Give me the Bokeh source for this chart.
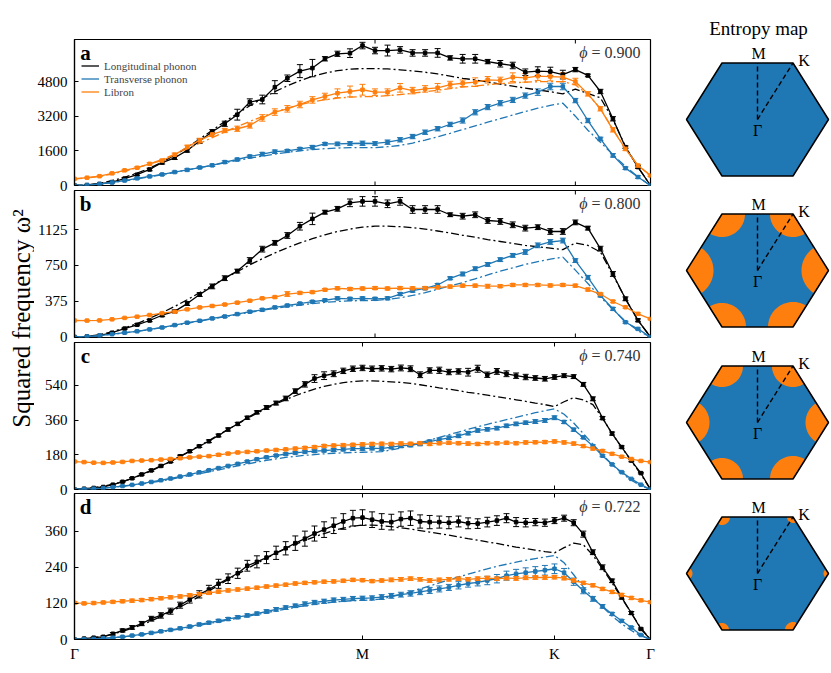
import numpy as np
from bokeh.plotting import figure
from bokeh.models import (Range1d, FixedTicker, Whisker, TeeHead, ColumnDataSource,
                          Legend, LegendItem, Label)
from bokeh.layouts import row, column
from bokeh.embed import file_html
from bokeh.resources import INLINE

FONT = "Liberation Serif"
BLACK = "#000000"
BLUE = "#1f77b4"
ORANGE = "#ff7f0e"

# ---------------- data ----------------
XS_AB = list(range(47))          # q-path samples, panels a & b
XS_CD = list(range(61))          # q-path samples, panels c & d
TICKS_AB = [0, 24, 40, 46]
TICKS_CD = [0, 30, 50, 60]
TICK_NAMES = ["Γ", "M", "K", "Γ"]

PHI = ["0.900", "0.800", "0.740", "0.722"]
Y_TICKS = [[0, 1600, 3200, 4800], [0, 375, 750, 1125], [0, 180, 360, 540], [0, 120, 240, 360]]
Y_LIMITS = [(0, 6740), (-5, 1534), (0, 762), (0, 485)]

A_long = [0, 20, 70, 160, 320, 500, 740, 1060, 1280, 1620,
          2050, 2480, 2850, 3270, 3850, 3970, 4540, 4950, 5280, 5420,
          5850, 6080, 6110, 6460, 6230, 6230, 6260, 6120, 6120, 6120,
          5890, 5850, 5850, 5720, 5620, 5540, 5230, 5280, 5260, 5120,
          5350, 5080, 4340, 3080, 1770, 850, 0]
A_long_err = [0, 10, 20, 30, 40, 50, 60, 70, 80, 80,
              100, 100, 120, 250, 150, 200, 300, 150, 300, 400,
              100, 120, 200, 150, 150, 250, 150, 150, 150, 200,
              100, 200, 200, 100, 150, 150, 150, 200, 200, 200,
              100, 60, 100, 100, 60, 60, 0]
A_long_th = [0, 30, 100, 220, 380, 570, 800, 1080, 1400, 1760,
             2150, 2550, 2950, 3320, 3680, 4020, 4330, 4600, 4840, 5040,
             5190, 5300, 5370, 5400, 5400, 5380, 5340, 5290, 5230, 5150,
             5050, 4950, 4870, 4780, 4680, 4590, 4500, 4410, 4330, 4230,
             4450, 4250, 4050, 3050, 1800, 850, 0]
A_trans = [0, 20, 70, 140, 230, 330, 420, 510, 620, 720,
           830, 930, 1080, 1200, 1340, 1450, 1560, 1600, 1690, 1770,
           1920, 1920, 1940, 1950, 1940, 2000, 2110, 2260, 2460, 2620,
           2820, 3000, 3380, 3620, 3800, 3950, 4150, 4310, 4570, 4570,
           3920, 3000, 2150, 1390, 800, 390, 0]
A_trans_err = [0, 10, 10, 20, 20, 30, 30, 40, 40, 50,
               50, 50, 60, 60, 60, 80, 80, 60, 60, 80,
               60, 80, 80, 100, 80, 100, 100, 100, 100, 100,
               100, 120, 120, 120, 120, 120, 120, 150, 150, 150,
               100, 100, 80, 80, 60, 60, 0]
A_trans_th = [0, 20, 65, 130, 210, 300, 400, 500, 610, 720,
              830, 940, 1050, 1160, 1260, 1360, 1450, 1530, 1600, 1660,
              1700, 1730, 1745, 1750, 1750, 1790, 1850, 1960, 2100, 2250,
              2410, 2580, 2750, 2920, 3090, 3250, 3420, 3570, 3700, 3800,
              3200, 2550, 2000, 1420, 880, 400, 0]
A_lib = [310, 360, 430, 560, 700, 820, 1000, 1150, 1420, 1780,
         2080, 2360, 2540, 2620, 2770, 3120, 3390, 3540, 3740, 3950,
         4110, 4260, 4340, 4420, 4310, 4310, 4510, 4380, 4460, 4510,
         4660, 4720, 4770, 4880, 4850, 5000, 4970, 5050, 5030, 5000,
         4800, 4230, 3540, 2570, 1690, 920, 460]
A_lib_err = [0, 20, 20, 30, 30, 40, 50, 60, 80, 80,
             100, 100, 100, 120, 120, 150, 150, 150, 150, 150,
             150, 200, 250, 250, 150, 150, 200, 150, 150, 200,
             150, 150, 200, 150, 150, 200, 200, 200, 200, 200,
             150, 100, 100, 100, 80, 60, 40]
A_lib_th = [310, 350, 420, 530, 660, 820, 1000, 1210, 1440, 1690,
            1950, 2210, 2470, 2720, 2960, 3180, 3390, 3570, 3730, 3860,
            3960, 4030, 4080, 4100, 4110, 4150, 4200, 4260, 4330, 4400,
            4470, 4540, 4600, 4650, 4700, 4740, 4770, 4790, 4800, 4790,
            4650, 4200, 3550, 2600, 1700, 930, 460]

B_long = [0, 5, 14, 45, 88, 128, 173, 228, 268, 350,
          445, 530, 616, 690, 801, 920, 986, 1063, 1160, 1237,
          1307, 1342, 1405, 1420, 1420, 1395, 1420, 1335, 1335, 1335,
          1280, 1265, 1280, 1220, 1210, 1175, 1140, 1150, 1105, 1105,
          1200, 1140, 925, 660, 400, 175, 0]
B_long_err = [0, 2, 4, 6, 8, 10, 12, 15, 15, 20,
              20, 25, 25, 20, 30, 30, 25, 30, 40, 60,
              20, 25, 40, 50, 50, 40, 40, 40, 40, 40,
              20, 30, 30, 30, 30, 30, 30, 25, 30, 30,
              25, 20, 25, 25, 20, 15, 0]
B_long_th = [0, 8, 25, 55, 95, 140, 195, 255, 320, 390,
             465, 540, 615, 685, 755, 820, 880, 935, 985, 1030,
             1070, 1105, 1130, 1150, 1160, 1160, 1155, 1145, 1130, 1110,
             1090, 1065, 1045, 1020, 1000, 980, 960, 945, 930, 915,
             985, 960, 890, 650, 400, 175, 0]
B_trans = [0, 5, 15, 30, 45, 60, 80, 100, 125, 150,
           170, 195, 215, 240, 265, 285, 310, 330, 350, 370,
           385, 405, 400, 405, 400, 405, 450, 485, 510, 545,
           615, 660, 715, 760, 810, 855, 890, 960, 995, 1010,
           800, 625, 435, 295, 155, 85, 0]
B_trans_err = [0, 2, 3, 4, 5, 5, 6, 8, 8, 8,
               8, 10, 10, 10, 10, 12, 12, 12, 12, 12,
               12, 15, 15, 15, 15, 15, 15, 15, 15, 15,
               15, 20, 20, 20, 20, 20, 25, 25, 25, 25,
               20, 20, 15, 15, 10, 10, 0]
B_trans_th = [0, 5, 15, 28, 43, 60, 78, 98, 120, 143,
              167, 190, 213, 236, 258, 280, 300, 318, 335, 350,
              362, 372, 378, 382, 383, 395, 410, 435, 465, 500,
              535, 570, 610, 650, 690, 725, 760, 790, 815, 836,
              700, 560, 420, 290, 165, 65, 0]
B_lib = [173, 172, 174, 185, 200, 213, 230, 250, 265, 290,
         310, 325, 340, 360, 380, 405, 418, 450, 462, 470,
         495, 510, 503, 508, 512, 508, 512, 510, 512, 520,
         528, 538, 538, 532, 532, 545, 545, 545, 540, 545,
         538, 497, 450, 372, 312, 243, 190]
B_lib_err = [0, 5, 5, 5, 5, 5, 8, 8, 8, 8,
             8, 10, 10, 10, 10, 10, 10, 25, 12, 12,
             12, 15, 15, 15, 15, 15, 15, 15, 15, 15,
             15, 15, 15, 20, 15, 15, 15, 15, 15, 15,
             15, 15, 12, 12, 10, 10, 8]

C_long = [0, 4, 8, 13, 25, 40, 58, 78, 99, 122,
          145, 172, 198, 224, 250, 280, 311, 340, 372, 400,
          425, 448, 472, 510, 545, 575, 590, 600, 615, 626,
          630, 626, 628, 624, 630, 626, 595, 617, 618, 609,
          612, 608, 626, 595, 612, 600, 590, 583, 578, 574,
          583, 590, 585, 545, 470, 370, 290, 220, 150, 85,
          0]
C_long_err = [0, 1, 2, 2, 3, 3, 4, 4, 5, 5,
              5, 6, 6, 6, 7, 7, 8, 8, 8, 8,
              10, 10, 12, 12, 14, 20, 20, 15, 14, 14,
              14, 14, 14, 14, 15, 15, 15, 14, 16, 14,
              14, 20, 18, 14, 15, 15, 14, 14, 12, 12,
              12, 10, 10, 10, 10, 8, 8, 6, 6, 4,
              0]
C_long_th = [0, 3, 9, 17, 28, 41, 57, 76, 97, 120,
             145, 171, 198, 226, 254, 283, 312, 340, 368, 395,
             420, 444, 466, 486, 504, 520, 534, 545, 554, 560,
             563, 563, 561, 558, 555, 550, 543, 535, 527, 520,
             512, 504, 497, 489, 481, 473, 465, 457, 448, 440,
             430, 455, 476, 465, 440, 370, 290, 218, 148, 78,
             0]
C_trans = [0, 2, 4, 7, 12, 18, 24, 31, 39, 48,
           57, 67, 78, 89, 100, 111, 122, 133, 145, 157,
           167, 176, 184, 190, 195, 199, 202, 205, 208, 212,
           212, 214, 212, 220, 226, 230, 236, 248, 258, 268,
           278, 292, 306, 312, 318, 330, 340, 346, 352, 358,
           372, 350, 310, 270, 225, 175, 130, 90, 55, 25,
           0]
C_trans_err = [0, 1, 1, 1, 2, 2, 2, 2, 3, 3,
               3, 3, 3, 4, 4, 4, 4, 4, 5, 5,
               5, 5, 6, 6, 6, 7, 7, 8, 8, 9,
               9, 9, 9, 9, 9, 9, 9, 9, 9, 9,
               9, 9, 9, 9, 9, 9, 9, 9, 10, 10,
               10, 8, 8, 6, 6, 5, 4, 3, 2, 1,
               0]
C_trans_th = [0, 2, 4, 7, 11, 16, 22, 29, 36, 44,
              53, 62, 72, 82, 92, 102, 112, 122, 132, 142,
              151, 159, 166, 172, 177, 181, 185, 188, 190, 192,
              193, 194, 196, 205, 215, 228, 242, 256, 270, 284,
              298, 312, 325, 338, 350, 362, 374, 386, 398, 408,
              418, 390, 345, 290, 235, 180, 130, 85, 48, 20,
              0]
C_lib = [145, 142, 139, 138, 140, 143, 148, 150, 152, 155,
         158, 162, 166, 170, 173, 180, 186, 192, 195, 198,
         202, 205, 208, 212, 216, 220, 226, 228, 230, 232,
         234, 236, 237, 236, 238, 237, 240, 236, 240, 242,
         240, 238, 236, 240, 240, 242, 240, 244, 245, 246,
         249, 244, 238, 225, 212, 200, 185, 170, 158, 148,
         142]
C_lib_err = [4, 4, 4, 4, 4, 4, 4, 4, 4, 4,
             5, 5, 5, 5, 5, 6, 6, 6, 6, 6,
             6, 6, 6, 7, 7, 7, 7, 7, 7, 7,
             8, 8, 8, 8, 8, 8, 8, 8, 8, 8,
             8, 8, 8, 8, 8, 8, 8, 8, 8, 8,
             8, 8, 8, 7, 7, 6, 6, 5, 5, 4,
             4]

D_long = [0, 3, 6, 9, 19, 30, 40, 53, 69, 80,
          94, 114, 133, 150, 166, 185, 202, 220, 245, 258,
          272, 288, 303, 320, 335, 352, 365, 378, 392, 403,
          405, 398, 392, 390, 400, 403, 392, 390, 390, 388,
          392, 386, 385, 390, 395, 403, 390, 388, 390, 388,
          395, 403, 388, 350, 290, 240, 195, 140, 88, 35,
          0]
D_long_err = [0, 1, 2, 3, 4, 5, 6, 7, 8, 9,
              10, 10, 12, 12, 14, 15, 16, 17, 18, 20,
              20, 22, 22, 24, 25, 25, 26, 26, 26, 26,
              26, 26, 26, 26, 24, 24, 22, 22, 20, 20,
              18, 18, 16, 16, 16, 15, 15, 14, 12, 12,
              10, 10, 10, 10, 8, 8, 6, 6, 5, 3,
              0]
D_long_th = [0, 2, 6, 11, 18, 27, 37, 49, 62, 76,
             92, 108, 125, 143, 161, 180, 199, 217, 235, 253,
             270, 287, 302, 316, 329, 341, 352, 362, 370, 376,
             380, 380, 378, 375, 371, 367, 362, 357, 352, 347,
             341, 335, 330, 324, 319, 313, 307, 302, 297, 292,
             288, 305, 320, 315, 280, 235, 188, 138, 88, 38,
             0]
D_trans = [0, 1, 2, 4, 6, 9, 13, 17, 22, 27,
           32, 37, 43, 50, 56, 62, 68, 74, 80, 86,
           93, 100, 106, 112, 118, 123, 127, 131, 133, 136,
           137, 138, 141, 145, 149, 153, 158, 163, 168, 173,
           180, 186, 190, 196, 202, 212, 218, 222, 226, 230,
           235, 222, 192, 162, 135, 110, 85, 62, 40, 15,
           0]
D_trans_err = [0, 1, 1, 1, 2, 2, 2, 3, 3, 3,
               3, 4, 4, 4, 4, 5, 5, 5, 5, 5,
               6, 6, 6, 6, 7, 7, 7, 7, 7, 7,
               7, 7, 8, 8, 8, 9, 9, 10, 10, 10,
               12, 12, 12, 14, 14, 15, 15, 16, 16, 16,
               16, 14, 12, 10, 8, 6, 5, 4, 3, 2,
               0]
D_trans_th = [0, 1, 2, 4, 6, 9, 12, 16, 20, 25,
              30, 35, 41, 47, 53, 59, 65, 71, 77, 83,
              89, 95, 101, 107, 112, 117, 121, 124, 127, 129,
              130, 131, 135, 142, 150, 158, 168, 178, 188, 198,
              208, 217, 226, 235, 243, 250, 257, 263, 269, 274,
              279, 255, 215, 175, 140, 108, 78, 52, 30, 12,
              0]
D_lib = [122, 120, 121, 123, 125, 127, 129, 131, 134, 137,
         140, 143, 147, 151, 155, 159, 163, 166, 169, 172,
         176, 179, 182, 186, 188, 190, 192, 193, 195, 198,
         197, 194, 196, 198, 200, 202, 200, 196, 198, 200,
         202, 200, 202, 204, 202, 204, 203, 205, 206, 206,
         207, 204, 196, 188, 180, 168, 158, 148, 138, 130,
         124]
D_lib_err = [4, 4, 4, 4, 4, 5, 5, 5, 5, 5,
             5, 5, 5, 5, 5, 5, 5, 5, 5, 5,
             5, 5, 5, 5, 5, 5, 5, 5, 5, 5,
             5, 5, 5, 6, 6, 6, 6, 6, 6, 6,
             6, 6, 6, 6, 6, 6, 6, 6, 6, 6,
             6, 6, 6, 5, 5, 5, 5, 5, 5, 4,
             4]

# entropy-map orange patch radii at the 6 BZ corners
# order: right, bottom-right, bottom-left, left, top-left, top-right
ENTROPY_RADII = [[0, 0, 0, 0, 0, 0],
                 [27, 25, 24, 27, 23, 23],
                 [23, 23, 21, 23, 21, 21],
                 [5, 8, 7, 6, 8, 6]]

LEGEND_NAMES = ["Longitudinal phonon", "Transverse phonon", "Libron"]
PANEL_LETTERS = ["a", "b", "c", "d"]

PANEL_SERIES = [
    (XS_AB, TICKS_AB, [(A_long, A_long_err, A_long_th, BLACK), (A_trans, A_trans_err, A_trans_th, BLUE),
                       (A_lib, A_lib_err, A_lib_th, ORANGE)]),
    (XS_AB, TICKS_AB, [(B_long, B_long_err, B_long_th, BLACK), (B_trans, B_trans_err, B_trans_th, BLUE),
                       (B_lib, B_lib_err, None, ORANGE)]),
    (XS_CD, TICKS_CD, [(C_long, C_long_err, C_long_th, BLACK), (C_trans, C_trans_err, C_trans_th, BLUE),
                       (C_lib, C_lib_err, None, ORANGE)]),
    (XS_CD, TICKS_CD, [(D_long, D_long_err, D_long_th, BLACK), (D_trans, D_trans_err, D_trans_th, BLUE),
                       (D_lib, D_lib_err, None, ORANGE)]),
]

# ---------------- layout geometry (page body has no margin in Bokeh's template) ----------------
TOTAL_H = 673
PW = 621
FRAME_W = 577
HEIGHTS = [195, 160, 160, 182]
TOPS = [39, 3, 3, 2]
BOTTOMS = [10, 10, 10, 34]
TICK_LEN = 4


def add_series(p, xs, ys, err, th, color):
    if th is not None:
        p.line(xs, th, line_color=color, line_width=1.3, line_dash="8 3 2 3")
    src = ColumnDataSource(dict(x=xs, y=ys,
                                lo=[y - e for y, e in zip(ys, err)],
                                up=[y + e for y, e in zip(ys, err)]))
    p.add_layout(Whisker(source=src, base="x", lower="lo", upper="up", dimension="height",
                         line_color=color, line_width=1,
                         upper_head=TeeHead(size=6, line_color=color, line_width=1),
                         lower_head=TeeHead(size=6, line_color=color, line_width=1)))
    r = p.line("x", "y", source=src, line_color=color, line_width=1.3)
    p.scatter("x", "y", source=src, marker="square", size=3.5, color=color)
    return r


panels = []
legend_renderers = None
for k in range(4):
    xs, ticks, series = PANEL_SERIES[k]
    y0, y1 = Y_LIMITS[k]
    p = figure(width=PW, height=HEIGHTS[k], output_backend="svg", toolbar_location=None, title=None,
               x_range=Range1d(xs[0], xs[-1]), y_range=Range1d(y0, y1),
               min_border_left=39, min_border_right=5, min_border_top=TOPS[k], min_border_bottom=BOTTOMS[k])
    p.xgrid.visible = False
    p.ygrid.visible = False
    p.outline_line_color = "black"
    p.outline_line_width = 1.2
    p.background_fill_color = None
    p.border_fill_color = None

    ya = p.yaxis[0]
    ya.ticker = FixedTicker(ticks=Y_TICKS[k])
    ya.major_tick_in = TICK_LEN
    ya.major_tick_out = 0
    ya.minor_tick_line_color = None
    ya.major_label_text_font = FONT
    ya.major_label_text_font_size = "15px"
    ya.major_label_text_color = "black"
    ya.major_label_standoff = 7
    ya.axis_line_width = 1.2

    fh = HEIGHTS[k] - TOPS[k] - BOTTOMS[k]
    tick_dy = TICK_LEN * (y1 - y0) / fh
    inner = ticks[1:-1]
    if k == 3:
        xa = p.xaxis[0]
        xa.ticker = FixedTicker(ticks=ticks)
        xa.major_tick_in = TICK_LEN
        xa.major_tick_out = 0
        xa.minor_tick_line_color = None
        xa.axis_line_width = 1.2
        xa.major_label_overrides = {t: n for t, n in zip(ticks, TICK_NAMES)}
        xa.major_label_text_font = FONT
        xa.major_label_text_font_size = "15px"
        xa.major_label_text_color = "black"
        xa.major_label_standoff = 6
    else:
        p.xaxis.visible = False
        p.segment(x0=inner, y0=[y0] * len(inner), x1=inner, y1=[y0 + tick_dy] * len(inner),
                  line_color="black", line_width=1)
    p.segment(x0=inner, y0=[y1] * len(inner), x1=inner, y1=[y1 - tick_dy] * len(inner),
              line_color="black", line_width=1)

    rends = []
    for ys, err, th, color in series:
        rends.append(add_series(p, xs, ys, err, th, color))
    if k == 0:
        legend_renderers = rends

    xr = (xs[0], xs[-1])

    def fx(off):
        return xr[0] + off / FRAME_W * (xr[1] - xr[0])

    def fy(off):
        return y1 - off / fh * (y1 - y0)

    p.add_layout(Label(x=fx(11), y=fy(13.5), text=PANEL_LETTERS[k], text_font=FONT,
                       text_font_size="21px", text_font_style="bold", text_align="center",
                       text_baseline="middle", text_color="black"))
    p.add_layout(Label(x=fx(567), y=fy(12.5), text="= " + PHI[k], text_font=FONT,
                       text_font_size="16px", text_align="right", text_baseline="middle",
                       text_color="#333333"))
    p.add_layout(Label(x=fx(514), y=fy(12.5), text="ϕ", text_font=FONT,
                       text_font_size="16px", text_font_style="italic", text_align="right",
                       text_baseline="middle", text_color="#333333"))
    if k > 0:
        p.margin = (-8, 0, 0, 0)
    panels.append(p)

legend = Legend(items=[LegendItem(label=n, renderers=[r]) for n, r in zip(LEGEND_NAMES, legend_renderers)],
                location=(7, 87), background_fill_alpha=0, border_line_color=None,
                label_text_font=FONT, label_text_font_size="11px", glyph_width=18, glyph_height=13,
                label_height=13, spacing=0, padding=0, margin=0, label_standoff=5)
panels[0].add_layout(legend)

# ---------------- y label strip ----------------
ylab = figure(width=34, height=TOTAL_H, output_backend="svg", toolbar_location=None, title=None,
              x_range=Range1d(0, 34), y_range=Range1d(TOTAL_H, 0), min_border=0,
              x_axis_type=None, y_axis_type=None)
ylab.outline_line_color = None
ylab.background_fill_color = None
ylab.border_fill_color = None
ylab.add_layout(Label(x=21, y=318, text="Squared frequency ω²", angle=np.pi / 2,
                      text_font=FONT, text_font_size="25px", text_align="center",
                      text_baseline="middle", text_color="black"))

# ---------------- entropy maps ----------------
hx = figure(width=176, height=TOTAL_H, output_backend="svg", toolbar_location=None, title=None,
            x_range=Range1d(655, 831), y_range=Range1d(TOTAL_H, 0), min_border=0,
            x_axis_type=None, y_axis_type=None)
hx.outline_line_color = None
hx.background_fill_color = None
hx.border_fill_color = None

CX = 757
HW, HH = 71, 56.5
CENTERS_Y = [119, 270, 422, 573]


def sector(vx, vy, ax, ay, bx, by, r, n=28):
    a1 = np.arctan2(ay - vy, ax - vx)
    a2 = np.arctan2(by - vy, bx - vx)
    d = (a2 - a1 + np.pi) % (2 * np.pi) - np.pi
    t = a1 + d * np.linspace(0, 1, n)
    return [vx] + list(vx + r * np.cos(t)), [vy] + list(vy + r * np.sin(t))


for k, cy in enumerate(CENTERS_Y):
    vx = [CX + HW, CX + HW / 2, CX - HW / 2, CX - HW, CX - HW / 2, CX + HW / 2]
    vy = [cy, cy + HH, cy + HH, cy, cy - HH, cy - HH]
    hx.patch(vx, vy, fill_color=BLUE, line_color=None)
    bxs, bys = [], []
    for i in range(6):
        r = ENTROPY_RADII[k][i]
        if r <= 0:
            continue
        j, m = (i - 1) % 6, (i + 1) % 6
        sx, sy = sector(vx[i], vy[i], vx[j], vy[j], vx[m], vy[m], r)
        bxs.append(sx)
        bys.append(sy)
    if bxs:
        hx.patches(bxs, bys, fill_color=ORANGE, line_color=None)
    hx.patch(vx, vy, fill_color=None, line_color="black", line_width=1.5)
    hx.line([CX, CX], [cy, cy - HH], line_color="black", line_width=1.4, line_dash="5 3")
    hx.line([CX, CX + HW / 2], [cy, cy - HH], line_color="black", line_width=1.4, line_dash="5 3")
    for txt, lx, ly in [("M", CX + 1, cy - HH - 10), ("K", CX + HW / 2 + 11, cy - HH - 3), ("Γ", CX, cy + 11)]:
        hx.add_layout(Label(x=lx, y=ly, text=txt, text_font=FONT, text_font_size="16px",
                            text_align="center", text_baseline="middle", text_color="black"))

hx.add_layout(Label(x=CX + 1, y=28, text="Entropy map", text_font=FONT, text_font_size="19px",
                    text_align="center", text_baseline="middle", text_color="black"))

layout = row(ylab, column(*panels), hx)
open("out.html", "w").write(file_html(layout, INLINE))
